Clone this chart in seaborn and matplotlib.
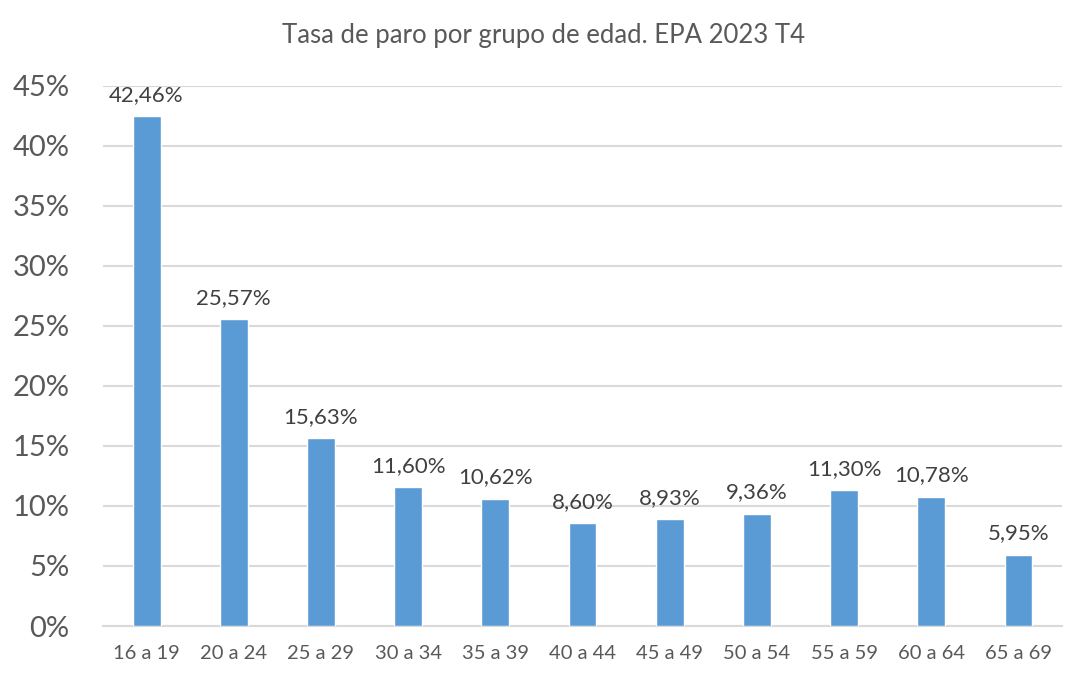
import numpy as np
import pandas as pd
import seaborn as sns
import matplotlib.pyplot as plt

# Datos: tasa de paro por grupo de edad (EPA 2023 T4)
grupos = ["16 a 19", "20 a 24", "25 a 29", "30 a 34", "35 a 39", "40 a 44",
          "45 a 49", "50 a 54", "55 a 59", "60 a 64", "65 a 69"]
tasas = [42.46, 25.57, 15.63, 11.60, 10.62, 8.60, 8.93, 9.36, 11.30, 10.78, 5.95]
yticks = [0, 5, 10, 15, 20, 25, 30, 35, 40, 45]

df = pd.DataFrame({"grupo": grupos, "tasa": tasas})

sns.set_style("white")
plt.rcParams['font.family'] = ['Lato', 'DejaVu Sans']
texto = "#595959"

fig = plt.figure(figsize=(10.86, 6.82), dpi=100)
ax = fig.add_axes([0.0948, 0.0821, 0.978 - 0.0948, 0.874 - 0.0821])

sns.barplot(data=df, x="grupo", y="tasa", color="#5B9BD5", width=0.32,
            saturation=1, ax=ax, zorder=3)

ax.set_ylim(0, 45)
ax.set_xlim(-0.5, len(grupos) - 0.5)
ax.set_yticks(yticks)
ax.set_yticklabels([f"{t}%" for t in yticks])
ax.grid(axis="y", color="#D9D9D9", linewidth=1.5, zorder=0)
ax.tick_params(axis="y", labelsize=21, labelcolor=texto, length=0, pad=24)
ax.tick_params(axis="x", labelsize=14.5, labelcolor=texto, length=0, pad=14)
ax.set_xlabel("")
ax.set_ylabel("")
for s in ["top", "right", "left"]:
    ax.spines[s].set_visible(False)
ax.spines["bottom"].set_color("#D9D9D9")
ax.spines["bottom"].set_linewidth(1.5)

for i, v in enumerate(tasas):
    ax.annotate(f"{v:.2f}%".replace(".", ","), (i, v), xytext=(0, 8),
                textcoords="offset points", ha="center", va="bottom",
                fontsize=16, color="#404040")

fig.text(0.5, 0.948, "Tasa de paro por grupo de edad. EPA 2023 T4",
         ha="center", va="center", fontsize=18.5, color=texto)

fig.savefig("out.png", dpi=100)
